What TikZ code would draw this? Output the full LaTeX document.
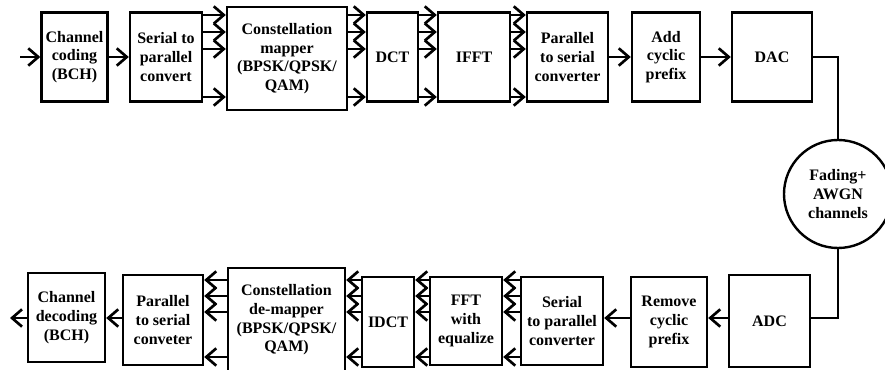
\documentclass[tikz,border=0pt]{standalone}
\usepackage{fontspec}
\setmainfont{Liberation Serif}
\usetikzlibrary{arrows.meta}
\tikzset{
  blk/.style={draw, line width=1.8pt, align=center, inner sep=1pt,
    font=\bfseries\fontsize{12}{14}\selectfont},
  conn/.style={line width=1.6pt, -{Straight Barb[length=7.5pt,width=13pt,line width=2pt]}},
  wire/.style={line width=1.6pt}
}
\begin{document}
\begin{tikzpicture}[x=0.75pt, y=-0.75pt, line join=miter]
  \useasboundingbox (0,0) rectangle (885,370);
  % transmitter
  \node[blk, minimum width=49.5pt, minimum height=66.75pt] (cc) at (74.5,57) {Channel\\coding\\(BCH)};
  \node[blk, minimum width=54pt, minimum height=66.75pt] (sp) at (166,57) {Serial to\\parallel\\convert};
  \node[blk, minimum width=90pt, minimum height=77.25pt] (map) at (287,58.5) {Constellation\\mapper\\(BPSK/QPSK/\\QAM)};
  \node[blk, minimum width=38.25pt, minimum height=66.75pt] (dct) at (392.5,57) {DCT};
  \node[blk, minimum width=54pt, minimum height=66.75pt] (ifft) at (474,57) {IFFT};
  \node[blk, minimum width=60.75pt, minimum height=66.75pt] (ps) at (567.5,57) {Parallel\\to serial\\converter};
  \node[blk, minimum width=51pt, minimum height=66.75pt] (acp) at (666,57) {Add\\cyclic\\prefix};
  \node[blk, minimum width=60pt, minimum height=66.75pt] (dac) at (772,57) {DAC};
  % channel
  \node[blk, circle, minimum size=81pt] (ch) at (838,194) {Fading+\\AWGN\\channels};
  % receiver
  \node[blk, minimum width=60.75pt, minimum height=69pt] (adc) at (769.5,321) {ADC};
  \node[blk, minimum width=57pt, minimum height=67.5pt] (rcp) at (669,322) {Remove\\cyclic\\prefix};
  \node[blk, minimum width=61.5pt, minimum height=66pt] (spr) at (562,321) {Serial\\to parallel\\converter};
  \node[blk, minimum width=54pt, minimum height=66pt] (fft) at (466,321) {FFT\\with\\equalize};
  \node[blk, minimum width=39pt, minimum height=67.5pt] (idct) at (388,322) {IDCT};
  \node[blk, minimum width=87.75pt, minimum height=78pt] (demap) at (286.5,320) {Constellation\\de-mapper\\(BPSK/QPSK/\\QAM)};
  \node[blk, minimum width=60pt, minimum height=67.5pt] (psr) at (163,320) {Parallel\\to serial\\conveter};
  \node[blk, minimum width=57.75pt, minimum height=66.75pt] (cd) at (66.5,317.5) {Channel\\decoding\\(BCH)};
  \coordinate (in) at (20,57);
  \coordinate (out) at (10,318);
  \coordinate (tx) at (838,57);
  \coordinate (rx) at (838,318);

  \draw[conn] (in) -- (cc);
  \draw[conn] (cc) -- (sp);
  \foreach \a/\b in {sp/map, map/dct, dct/ifft, ifft/ps} {
    \foreach \y in {15,32,49,97}
      \draw[conn] (\a.east |- 0,\y) -- (\b.west |- 0,\y);
  }
  \draw[conn] (ps) -- (acp);
  \draw[conn] (acp) -- (dac);
  \draw[wire] (dac.east) -- (tx) -- (ch.north);
  \draw[wire] (ch.south) -- (rx) -- (adc.east |- rx);
  \draw[conn] (adc.west |- rx) -- (rcp.east |- rx);
  \draw[conn] (rcp.west |- rx) -- (spr.east |- rx);
  \foreach \a/\b in {spr/fft, fft/idct, idct/demap, demap/psr} {
    \foreach \y in {280,296,312,357}
      \draw[conn] (\a.west |- 0,\y) -- (\b.east |- 0,\y);
  }
  \draw[conn] (psr.west |- rx) -- (cd.east |- rx);
  \draw[conn] (cd.west |- rx) -- (out);
\end{tikzpicture}
\end{document}
